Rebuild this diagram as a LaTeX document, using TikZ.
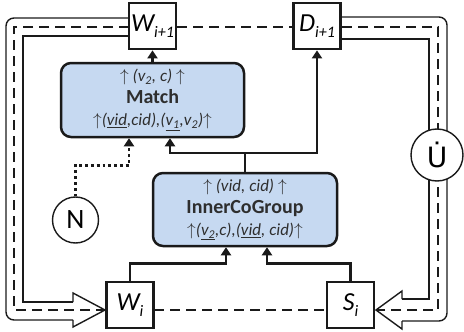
\documentclass[tikz,border=0pt]{standalone}
\usepackage{fontspec}
\setmainfont{Carlito}
\newfontfamily\dvsans{DejaVu Sans}
\usetikzlibrary{arrows.meta,calc}
\definecolor{opblue}{HTML}{C6D9F1}
\definecolor{ink}{HTML}{1A1A1A}
\definecolor{optext}{HTML}{2E2E2E}
\tikzset{
  wbox/.style={draw=ink, line width=2.8pt, fill=white, minimum width=47pt, minimum height=46pt, inner sep=0pt},
  opbox/.style={draw=ink, line width=2.5pt, fill=opblue, rounded corners=10pt, minimum width=183pt, minimum height=74pt, align=center, text=optext, inner sep=0pt, font=\fontsize{17}{22}\selectfont},
  flow/.style={line width=2.8pt, draw=ink, -{Triangle[length=8pt,width=10pt]}},
  dotflow/.style={line width=2.8pt, draw=ink, dash pattern=on 2.8pt off 3pt, -{Triangle[length=8pt,width=10pt]}},
  pipe/.style={line width=1.4pt, draw=ink},
  ring/.style={line width=2.9pt, draw=ink, dash pattern=on 10pt off 6pt},
  opcircle/.style={circle, draw=ink, line width=1.4pt, fill=white, inner sep=0pt},
}
\newcommand{\wlab}[2]{{\fontsize{26}{26}\selectfont\itshape #1}{\fontsize{16}{16}\selectfont\itshape\raisebox{-6pt}{#2}}}
\newcommand{\ua}{$\uparrow$}
\begin{document}
\begin{tikzpicture}[x=1pt,y=-1pt]
\useasboundingbox (0,0) rectangle (464,332);

% dashed ring segments
\draw[ring] (129,27) -- (14,27) -- (14,310) -- (106,310);
\draw[ring] (177,27) -- (292,27);
\draw[ring] (154,310) -- (326,310);
\draw[ring] (342,27) -- (438,27) -- (438,310) -- (376,310);

% left pipe
\draw[pipe, rounded corners=8pt] (129,18) -- (6,18) -- (6,320) -- (73,320);
\draw[pipe] (129,36) -- (23,36) -- (23,302) -- (73,302);
\draw[pipe] (73,302) -- (73,293) -- (105,310) -- (73,327) -- (73,320);

% right pipe
\draw[pipe, rounded corners=8pt] (342,17) -- (447,17) -- (447,321) -- (402,321);
\draw[pipe] (342,39) -- (429,39) -- (429,299) -- (402,299);
\draw[pipe] (402,299) -- (402,291) -- (376,310) -- (402,329) -- (402,321);

% nodes
\node[wbox] (wn) at (152.5,26) {\wlab{W}{i+1}};
\node[wbox] (dn) at (317,26) {\wlab{D}{i+1}};
\node[wbox] (wi) at (130,305) {\wlab{W}{i}};
\node[wbox] (si) at (350.5,305) {\wlab{S}{i}};
\node[opbox] (match) at (152.5,100) {\ua\ \textit{(v\textsubscript{2}, c)}\ \ua\\ {\fontsize{20}{22}\selectfont\bfseries Match}\\ \ua\textit{(\underline{vid},cid),(\underline{v\textsubscript{1}},v\textsubscript{2})}\ua};
\node[opbox, minimum width=184pt, minimum height=73pt] (icg) at (245,209.5) {\ua\ \textit{(vid, cid)}\ \ua\\ {\fontsize{20}{22}\selectfont\bfseries InnerCoGroup}\\ \ua\textit{(\underline{v\textsubscript{2}},c),(\underline{vid}, cid)}\ua};
\node[opcircle, minimum size=46pt, font=\fontsize{28}{28}\selectfont] (n) at (75.5,220) {N};
\node[opcircle, minimum size=52pt, font=\dvsans\fontsize{28}{28}\selectfont] (u) at (437,155) {U^^^^0307};

% connectors
\draw[flow] (match.north) -- (wn.south);
\coordinate (jn) at (245,153);
\draw[flow] (icg.north) -- (jn) -| ([xshift=17.5pt]match.south);
\draw[flow] (jn) -| (dn.south);
\draw[flow] (wi.north) -- ++(0,-17) -| ([xshift=-19pt]icg.south);
\draw[flow] (si.north) -- ++(0,-17) -| ([xshift=22pt]icg.south);
\draw[dotflow] (n.north) -- ++(0,-31) -| ([xshift=-23.5pt]match.south);
\end{tikzpicture}
\end{document}
